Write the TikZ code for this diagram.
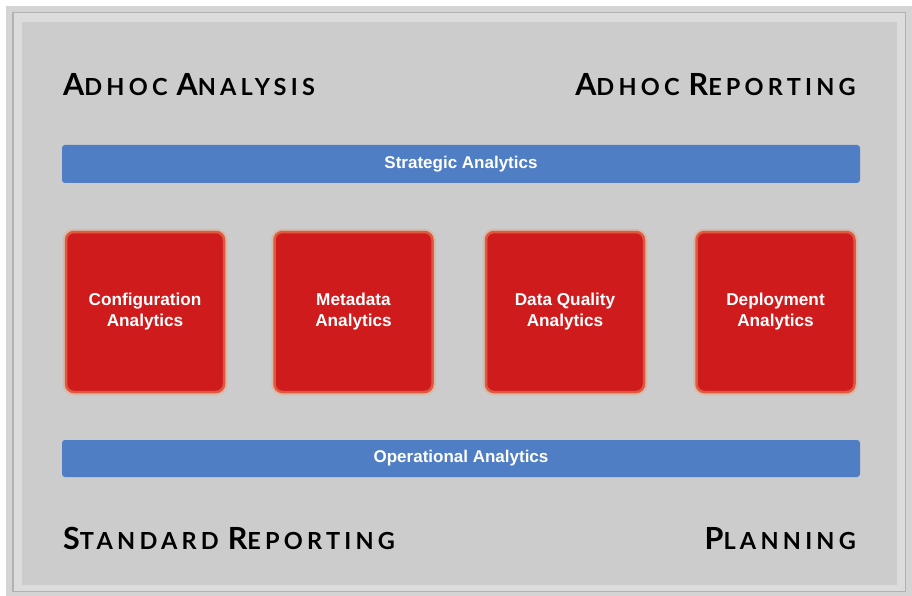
\documentclass[tikz,border=0pt]{standalone}
\usepackage{fontspec}
\setmainfont{Liberation Sans}
\newfontfamily\titlefont{Lato}[LetterSpace=18]
\definecolor{panel}{HTML}{CCCCCC}
\definecolor{outerband}{HTML}{D4D4D4}
\definecolor{frameline}{HTML}{B2B2B2}
\definecolor{innerband}{HTML}{DCDCDC}
\definecolor{barblue}{HTML}{4F7EC5}
\definecolor{boxred}{HTML}{D01B1D}
\definecolor{glowA}{HTML}{D9B8A8}
\definecolor{glowB}{HTML}{DC5A40}
\newcommand\mysc[2]{{\fontsize{30.5}{30}\selectfont #1}{\fontsize{23.5}{24}\selectfont #2}}
\newcommand\wsp{\hspace{9pt}}
\tikzset{
  titletext/.style={font=\titlefont\bfseries, text=black, inner sep=0pt},
  redbox/.style={fill=boxred, draw=glowB, line width=2.5pt, rounded corners=8pt,
    preaction={draw=glowA, line width=6.5pt, rounded corners=8pt},
    inner sep=0pt, minimum width=158pt, minimum height=160pt,
    text=white, align=center, font=\bfseries\fontsize{17.2}{21}\selectfont},
  bluebar/.style={fill=barblue, rounded corners=3pt, inner sep=0pt,
    minimum width=798pt, text=white, font=\bfseries\fontsize{17}{19}\selectfont}
}
\begin{document}
\begin{tikzpicture}[x=1pt,y=-1pt]
\useasboundingbox (0,0) rectangle (912,596);
\fill[white] (0,0) rectangle (912,596);
% frame
\fill[outerband] (6,6) rectangle (912,596);
\fill[frameline] (12,12) rectangle (906,592);
\fill[innerband] (13.5,13.5) rectangle (904.5,590.5);
\fill[panel] (22,22) rectangle (897,585);
% titles
\node[titletext, anchor=base west] (t1) at (63,96) {\mysc{A}{DHOC}\wsp\mysc{A}{NALYSIS}};
\node[titletext, anchor=base east] (t2) at (856,96) {\mysc{A}{DHOC}\wsp\mysc{R}{EPORTING}};
\node[titletext, anchor=base west] (t3) at (63,549) {\mysc{S}{TANDARD}\wsp\mysc{R}{EPORTING}};
\node[titletext, anchor=base east] (t4) at (856,549) {\mysc{P}{LANNING}};
% bars
\node[bluebar, minimum height=38pt] (sa) at (461,164) {Strategic Analytics};
\node[bluebar, minimum height=37pt] (oa) at (461,458.5) {Operational Analytics};
% boxes
\node[redbox] (b1) at (145,312) {Configuration\\Analytics};
\node[redbox] (b2) at (353.5,312) {Metadata\\Analytics};
\node[redbox] (b3) at (565,312) {Data Quality\\Analytics};
\node[redbox] (b4) at (775.5,312) {Deployment\\Analytics};
\end{tikzpicture}
\end{document}
